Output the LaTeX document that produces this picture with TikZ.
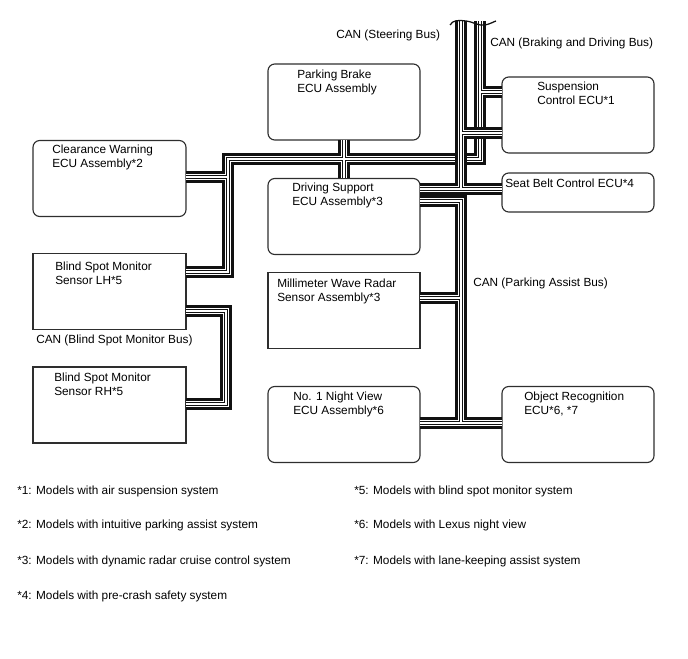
\documentclass[tikz,border=0pt]{standalone}
\usepackage{fontspec}
\setmainfont{Liberation Sans}
\usepackage{tikz}
\definecolor{CNInk}{HTML}{111111}
\definecolor{CNBox}{HTML}{2E2E2E}

\begin{document}
\begin{tikzpicture}[x=0.025cm,y=-0.025cm,
  ecu/.style={draw=CNBox,line width=0.8pt,rounded corners=0.17cm,minimum width=3.8cm,minimum height=1.9cm,inner sep=0pt,outer sep=0pt},
  ecusq/.style={ecu,sharp corners},
  bus/.style={draw=CNInk,line width=8.5pt,postaction={draw=white,line width=4.6pt},postaction={draw=CNInk,line width=2.5pt},postaction={draw=white,line width=1.2pt}},
  txt/.style={anchor=north west,align=left,inner sep=0pt,font=\fontsize{8.4}{9.9}\selectfont},
  note/.style={anchor=west,inner sep=0pt,font=\fontsize{8.4}{10}\selectfont}]
\useasboundingbox (0,0) rectangle (688,658);
\node[ecu] (pkb) at (344,102) {};
\node[ecu] (dsu) at (344,216.5) {};
\node[ecu] (sus) at (578,115) {};
\node[ecu,minimum height=0.975cm] (sbc) at (578,192.5) {};
\node[ecu,minimum width=3.825cm] (clw) at (109.5,178.5) {};
\node[ecusq,minimum width=3.825cm] (bsl) at (109.5,291.5) {};
\node[ecusq,minimum width=3.825cm] (bsr) at (109.5,405) {};
\node[ecusq] (mwr) at (344,310.5) {};
\node[ecu] (nvw) at (344,424.5) {};
\node[ecu] (obj) at (578,424.5) {};
\node[txt] (pkb-t) at (297,70) {Parking Brake\\ECU Assembly};
\node[txt] (dsu-t) at (292,183) {Driving Support\\ECU Assembly*3};
\node[txt] (sus-t) at (537,82) {Suspension\\Control ECU*1};
\node[txt] (sbc-t) at (505,179) {Seat Belt Control ECU*4};
\node[txt] (clw-t) at (52,145) {Clearance Warning\\ECU Assembly*2};
\node[txt] (bsl-t) at (55,262) {Blind Spot Monitor\\Sensor LH*5};
\node[txt] (bsr-t) at (54,373) {Blind Spot Monitor\\Sensor RH*5};
\node[txt] (mwr-t) at (277,279) {Millimeter Wave Radar\\Sensor Assembly*3};
\node[txt] (nvw-t) at (293,392) {No. 1 Night View\\ECU Assembly*6};
\node[txt] (obj-t) at (524,392) {Object Recognition\\ECU*6, *7};
\coordinate (bk-top) at (480,21);
\coordinate (bk-s) at (480,92);
\coordinate (bk-c) at (480,159);
\coordinate (bk-w) at (228,159);
\coordinate (bk-cl) at (228,177);
\coordinate (bk-bl) at (228,272);
\draw[bus] (bk-top) -- (bk-c) -- (bk-w) -- (bk-bl) -- (bsl.east |- bk-bl) (bk-s) -- (sus.west |- bk-s) (bk-cl) -- (clw.east |- bk-cl) (pkb.south) -- (dsu.north);
\coordinate (st-top) at (461,21);
\coordinate (st-s) at (461,133);
\coordinate (st-j) at (461,189);
\draw[bus] (st-top) -- (st-j) (st-s) -- (sus.west |- st-s) (dsu.east |- st-j) -- (sbc.west |- st-j);
\coordinate (pa-n) at (461,201);
\coordinate (pa-m) at (461,298);
\coordinate (pa-s) at (461,423);
\draw[bus] (dsu.east |- pa-n) -- (pa-n) -- (pa-s) (mwr.east |- pa-m) -- (pa-m) (nvw.east |- pa-s) -- (obj.west |- pa-s);
\coordinate (bs-n) at (226,311);
\coordinate (bs-s) at (226,404);
\draw[bus] (bsl.east |- bs-n) -- (bs-n) -- (bs-s) -- (bsr.east |- bs-s);
\draw[CNInk,line width=0.9pt] (450,25) .. controls (453,20) and (458,20) .. (466,21) .. controls (474,22) and (478,26) .. (485,25) .. controls (490,24) and (493,22) .. (496,21);
\node[note] (st-l) at (336,35) {CAN (Steering Bus)};
\node[note] (bk-l) at (490,43) {CAN (Braking and Driving Bus)};
\node[note] (pa-l) at (473,283) {CAN (Parking Assist Bus)};
\node[note] (bs-l) at (36,340) {CAN (Blind Spot Monitor Bus)};
\node[note] (fn1) at (17,491) {*1: Models with air suspension system};
\node[note] (fn2) at (17,525) {*2: Models with intuitive parking assist system};
\node[note] (fn3) at (17,561) {*3: Models with dynamic radar cruise control system};
\node[note] (fn4) at (17,596) {*4: Models with pre-crash safety system};
\node[note] (fn5) at (354,491) {*5: Models with blind spot monitor system};
\node[note] (fn6) at (354,525) {*6: Models with Lexus night view};
\node[note] (fn7) at (354,561) {*7: Models with lane-keeping assist system};
\end{tikzpicture}
\end{document}
